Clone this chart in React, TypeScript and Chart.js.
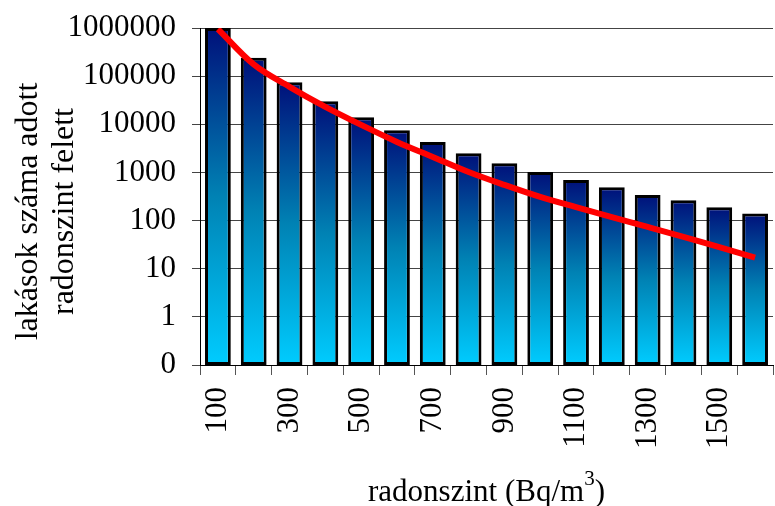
import { useEffect, useRef } from 'react';
import { Chart, registerables } from 'chart.js';

Chart.register(...registerables);

const CATEGORIES = ['100', '200', '300', '400', '500', '600', '700', '800', '900', '1000', '1100', '1200', '1300', '1400', '1500', '1600'];
const SHOWN_X_LABELS = ['100', '300', '500', '700', '900', '1100', '1300', '1500'];
const BAR_VALUES = [1000000, 240000, 75000, 30000, 14000, 7500, 4300, 2500, 1550, 1020, 700, 490, 340, 265, 190, 140];
const CURVE_VALUES = [950000, 175000, 60000, 23000, 9700, 4300, 2100, 1020, 550, 310, 190, 118, 74, 46, 28, 17];
const Y_TICKS = [0.1, 1, 10, 100, 1000, 10000, 100000, 1000000];
const Y_TITLE = ['lakások száma adott', 'radonszint felett'];
const X_TITLE = 'radonszint (Bq/m';
const X_TITLE_SUP = '3';
const X_TITLE_END = ')';

const FONT = '"Liberation Serif", "Times New Roman", serif';

const titlePlugin = {
  id: 'customTitles',
  afterDraw(chart: any) {
    const c = chart.ctx as CanvasRenderingContext2D;
    const area = chart.chartArea;
    c.save();
    c.fillStyle = '#000';
    c.textBaseline = 'alphabetic';
    c.textAlign = 'center';
    c.font = `32px ${FONT}`;
    const yMid = (area.top + area.bottom) / 2 + 15;
    const baselines = [37, 73];
    Y_TITLE.forEach((line, i) => {
      c.save();
      c.translate(baselines[i], yMid);
      c.rotate(-Math.PI / 2);
      c.fillText(line, 0, 0);
      c.restore();
    });
    // x title with superscript
    c.textAlign = 'left';
    c.font = `31px ${FONT}`;
    const w1 = c.measureText(X_TITLE).width;
    const w3 = c.measureText(X_TITLE_END).width;
    c.font = `21px ${FONT}`;
    const w2 = c.measureText(X_TITLE_SUP).width;
    const total = w1 + w2 + w3;
    const xMid = (area.left + area.right) / 2;
    let x = xMid - total / 2;
    const base = chart.height - 5;
    c.font = `31px ${FONT}`;
    c.fillText(X_TITLE, x, base);
    x += w1;
    c.font = `21px ${FONT}`;
    c.fillText(X_TITLE_SUP, x, base - 16);
    x += w2;
    c.font = `31px ${FONT}`;
    c.fillText(X_TITLE_END, x, base);
    c.restore();
  },
};

export default function App() {
  const ref = useRef<HTMLCanvasElement | null>(null);

  useEffect(() => {
    document.body.style.margin = '0';
    if (!ref.current) return;
    const chart = new Chart(ref.current, {
      type: 'bar',
      data: {
        labels: CATEGORIES,
        datasets: [
          {
            type: 'line',
            data: CURVE_VALUES,
            borderColor: '#ff0000',
            borderWidth: 6,
            pointRadius: 0,
            cubicInterpolationMode: 'monotone',
            fill: false,
            order: 0,
          } as any,
          {
            type: 'bar',
            data: BAR_VALUES,
            order: 1,
            borderColor: '#000000',
            borderWidth: 3,
            borderSkipped: false,
            barPercentage: 0.72,
            categoryPercentage: 1,
            backgroundColor: (ctx: any) => {
              const ch = ctx.chart;
              const area = ch.chartArea;
              if (!area || ctx.type !== 'data') return '#0084b6';
              const top = ch.scales.y.getPixelForValue(ctx.raw);
              const g = ch.ctx.createLinearGradient(0, top, 0, area.bottom);
              g.addColorStop(0, '#00107a');
              g.addColorStop(0.5, '#0082b4');
              g.addColorStop(1, '#00ccff');
              return g;
            },
          } as any,
        ],
      },
      options: {
        animation: false,
        responsive: true,
        maintainAspectRatio: false,
        layout: { padding: { top: 28, right: 2, left: 0, bottom: 0 } },
        plugins: {
          legend: { display: false },
          tooltip: { enabled: false },
        },
        scales: {
          x: {
            type: 'category',
            afterFit: (s: any) => {
              s.height = 141;
              s.paddingLeft = 0;
              s.paddingRight = 0;
            },
            grid: {
              display: true,
              drawOnChartArea: false,
              drawTicks: true,
              tickLength: 10,
              color: '#555',
              offset: true,
            },
            border: { display: true, color: '#000', width: 1 },
            ticks: {
              autoSkip: false,
              minRotation: 90,
              maxRotation: 90,
              padding: 12,
              color: '#000',
              font: { family: FONT, size: 31 },
              callback: function (_v: any, i: number) {
                const lab = CATEGORIES[i];
                return SHOWN_X_LABELS.includes(lab) ? lab : '';
              },
            },
          },
          y: {
            type: 'logarithmic',
            min: 0.1,
            max: 1000000,
            afterFit: (s: any) => {
              s.width = 200;
              s.paddingTop = 0;
              s.paddingBottom = 0;
            },
            afterBuildTicks: (s: any) => {
              s.ticks = Y_TICKS.map((v) => ({ value: v }));
            },
            grid: {
              color: '#444',
              lineWidth: 1,
              drawTicks: true,
              tickLength: 8,
            },
            border: { display: true, color: '#000', width: 1 },
            ticks: {
              padding: 16,
              color: '#000',
              font: { family: FONT, size: 31 },
              callback: (v: any) => (Number(v) < 1 ? '0' : String(Math.round(Number(v)))),
            },
          },
        },
      },
      plugins: [titlePlugin],
    });
    return () => chart.destroy();
  }, []);

  return (
    <div style={{ width: 775, height: 506, position: 'relative' }}>
      <canvas ref={ref} />
    </div>
  );
}
